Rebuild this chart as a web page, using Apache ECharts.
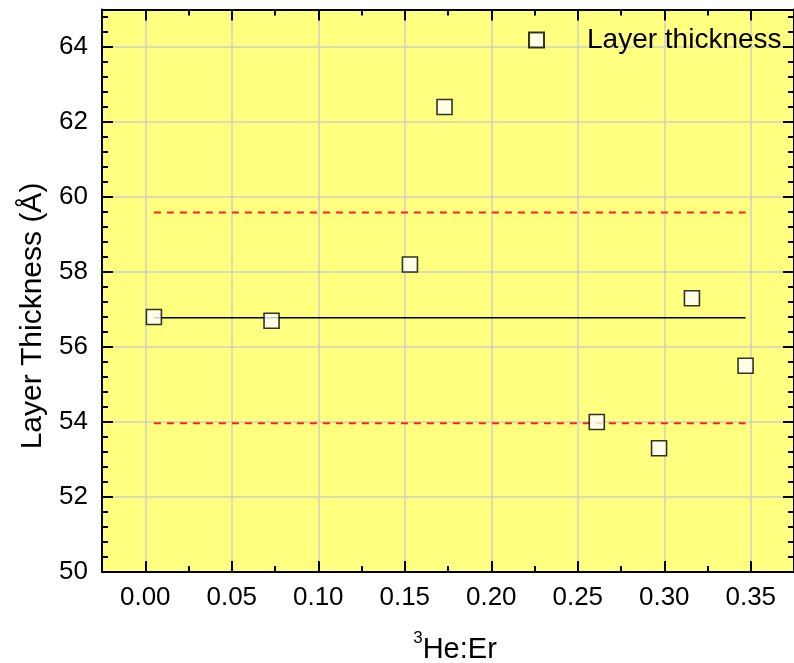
<!DOCTYPE html>
<html>
<head>
<meta charset="utf-8">
<script src="https://cdn.jsdelivr.net/npm/echarts@6/dist/echarts.min.js"></script>
<style>
  html, body { margin: 0; padding: 0; background: #ffffff; }
  #chart { width: 794px; height: 663px; }
</style>
</head>
<body>
<div id="chart"></div>
<script>
// 3He:Er ratio of each sample and its fitted layer thickness (Å)
const heErRatio = [0.005, 0.073, 0.153, 0.173, 0.261, 0.297, 0.316, 0.347];
const layerThickness = [56.8, 56.7, 58.2, 62.4, 54.0, 53.3, 57.3, 55.5];

// Average thickness and the ±1σ band around it
const meanThickness = 56.78;
const upperBand = 59.59;
const lowerBand = 53.97;
const bandFrom = 0.005;
const bandTo = 0.347;

const seriesName = 'Layer thickness';
const yTitle = 'Layer Thickness (Å)';
const FONT = '"Liberation Sans", Arial, sans-serif';

// Plot frame in pixels; the x range runs from -0.025 to 0.375
const X_MIN = -0.025, X_MAX = 0.375;
const FRAME = { left: 102, right: 0, top: 9.5, bottom: 91 };
const plotW = 794 - FRAME.left - FRAME.right;
const pxPerUnit = plotW / (X_MAX - X_MIN);
// Tick grid starts at x = 0 so the 0.05 steps line up with round values
const tickLeft = FRAME.left + (0 - X_MIN) * pxPerUnit;
const tickRight = 794 - (FRAME.left + (0.40 - X_MIN) * pxPerUnit);

const points = heErRatio.map((x, i) => [x, layerThickness[i]]);
const hLine = (y) => [[bandFrom, y], [bandTo, y]];

const chart = echarts.init(document.getElementById('chart'), null, { renderer: 'canvas' });

const frameLine = { show: true, onZero: false, lineStyle: { color: '#000', width: 2 } };
const majorTick = { show: true, inside: true, length: 11, lineStyle: { color: '#000', width: 2 } };

chart.setOption({
  animation: false,
  backgroundColor: '#ffffff',
  grid: [
    Object.assign({ show: true, backgroundColor: '#ffff80', borderWidth: 0, outerBoundsMode: 'none' }, FRAME),
    { left: tickLeft, right: tickRight, top: FRAME.top, bottom: FRAME.bottom, show: false,
      outerBoundsMode: 'none' }
  ],
  legend: {
    data: [seriesName],
    left: 523, top: 20,
    icon: 'rect',
    itemWidth: 15, itemHeight: 15,
    textStyle: {
      fontFamily: FONT, fontSize: 28, lineHeight: 30, color: '#000',
      padding: [0, 0, 0, 38]
    }
  },
  graphic: [{
    type: 'text',
    x: 33, y: 316,
    rotation: Math.PI / 2,
    style: {
      text: yTitle,
      font: '30px ' + FONT,
      fill: '#000',
      align: 'center',
      verticalAlign: 'middle'
    }
  }],
  xAxis: [
    // frame lines of the data grid, with the axis title
    { type: 'value', gridIndex: 0, position: 'bottom', min: X_MIN, max: X_MAX,
      axisLine: frameLine, axisTick: { show: false }, axisLabel: { show: false },
      splitLine: { show: false },
      name: '{sup|3}He:Er',
      nameLocation: 'middle',
      nameGap: 58,
      nameTextStyle: {
        fontFamily: FONT, fontSize: 29, color: '#000', lineHeight: 40,
        padding: [0, 0, 0, 14],
        rich: {
          sup: { fontFamily: FONT, fontSize: 17, color: '#000', verticalAlign: 'top', lineHeight: 40 }
        }
      }
    },
    { type: 'value', gridIndex: 0, position: 'top', min: X_MIN, max: X_MAX,
      axisLine: frameLine, axisTick: { show: false }, axisLabel: { show: false },
      splitLine: { show: false } },
    // ticks, labels and vertical grid lines
    { type: 'value', gridIndex: 1, position: 'bottom', min: 0, max: 0.40, interval: 0.05,
      axisLine: { show: false },
      axisTick: majorTick,
      minorTick: { show: true, splitNumber: 2, length: 6, lineStyle: { color: '#000', width: 2 } },
      axisLabel: {
        show: true, margin: 13, showMaxLabel: false,
        fontFamily: FONT, fontSize: 26, color: '#000',
        formatter: (v) => v.toFixed(2)
      },
      splitLine: { show: true, lineStyle: { color: '#d0d0c0', width: 1.5 } }
    },
    { type: 'value', gridIndex: 1, position: 'top', min: 0, max: 0.40, interval: 0.05,
      axisLine: { show: false },
      axisTick: majorTick,
      minorTick: { show: true, splitNumber: 2, length: 6, lineStyle: { color: '#000', width: 2 } },
      axisLabel: { show: false },
      splitLine: { show: false }
    }
  ],
  yAxis: [
    { type: 'value', gridIndex: 0, position: 'left', min: 50, max: 65, interval: 2,
      axisLine: frameLine,
      axisTick: majorTick,
      minorTick: { show: true, splitNumber: 5, length: 6, lineStyle: { color: '#000', width: 2 } },
      axisLabel: {
        show: true, margin: 14, showMaxLabel: false,
        fontFamily: FONT, fontSize: 26, color: '#000'
      },
      splitLine: { show: true, lineStyle: { color: '#d0d0c0', width: 1.5 } }
    },
    { type: 'value', gridIndex: 0, position: 'right', min: 50, max: 65, interval: 2,
      axisLine: frameLine,
      axisTick: majorTick,
      minorTick: { show: true, splitNumber: 5, length: 6, lineStyle: { color: '#000', width: 2 } },
      axisLabel: { show: false },
      splitLine: { show: false }
    },
    { type: 'value', gridIndex: 1, min: 50, max: 65, show: false }
  ],
  series: [
    {
      name: 'mean', type: 'line', xAxisIndex: 0, yAxisIndex: 0,
      data: hLine(meanThickness), symbol: 'none',
      lineStyle: { color: '#000', width: 1.5 }, z: 2
    },
    {
      name: 'upper', type: 'line', xAxisIndex: 0, yAxisIndex: 0,
      data: hLine(upperBand), symbol: 'none',
      lineStyle: { color: '#ff2020', width: 2, type: [7, 6] }, z: 2
    },
    {
      name: 'lower', type: 'line', xAxisIndex: 0, yAxisIndex: 0,
      data: hLine(lowerBand), symbol: 'none',
      lineStyle: { color: '#ff2020', width: 2, type: [7, 6] }, z: 2
    },
    {
      name: seriesName, type: 'scatter', xAxisIndex: 0, yAxisIndex: 0,
      data: points, symbol: 'rect', symbolSize: 15,
      itemStyle: { color: '#ffffff', borderColor: '#000', borderWidth: 1.6 },
      z: 5
    }
  ]
});
</script>
</body>
</html>
